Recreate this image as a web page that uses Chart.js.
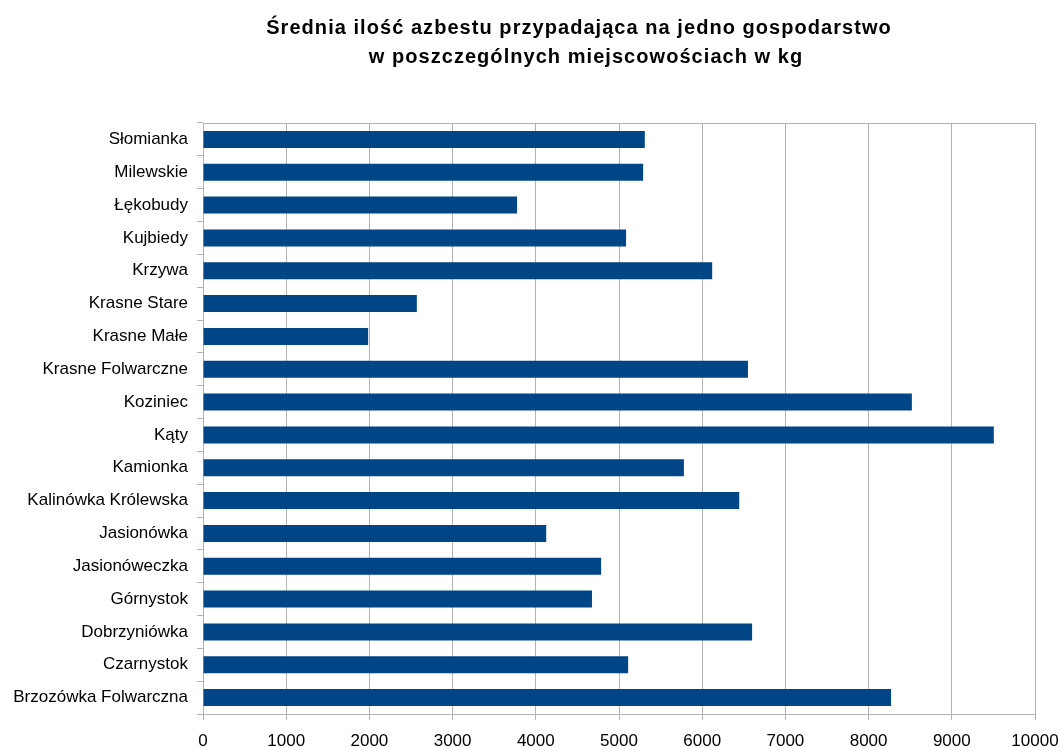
<!DOCTYPE html>
<html>
<head>
<meta charset="utf-8">
<script src="https://cdn.jsdelivr.net/npm/chart.js@4"></script>
<style>
  html, body { margin: 0; padding: 0; background: #ffffff; }
  #wrap { width: 1062px; height: 747px; }
</style>
</head>
<body>
<div id="wrap"><canvas id="c" width="1062" height="747"></canvas></div>
<script>
const titleLines = [
  "Średnia ilość azbestu przypadająca na jedno gospodarstwo",
  "w poszczególnych miejscowościach w kg"
];
const categories = [
  "Słomianka", "Milewskie", "Łękobudy", "Kujbiedy", "Krzywa",
  "Krasne Stare", "Krasne Małe", "Krasne Folwarczne", "Koziniec", "Kąty",
  "Kamionka", "Kalinówka Królewska", "Jasionówka", "Jasionóweczka",
  "Górnystok", "Dobrzyniówka", "Czarnystok", "Brzozówka Folwarczna"
];
const values = [
  5310, 5290, 3775, 5085, 6120,
  2570, 1985, 6550, 8520, 9505,
  5780, 6445, 4125, 4785,
  4675, 6600, 5110, 8270
];
const xMin = 0, xMax = 10000, xStep = 1000;

const GRID = '#b3b3b3';

const titlePlugin = {
  id: 'drawTitle',
  afterDraw(chart) {
    const ctx = chart.ctx;
    ctx.save();
    ctx.fillStyle = '#000000';
    ctx.font = 'bold 20px "Liberation Sans", Arial, sans-serif';
    if ('letterSpacing' in ctx) ctx.letterSpacing = '1.05px';
    ctx.textAlign = 'center';
    ctx.textBaseline = 'alphabetic';
    ctx.fillText(titleLines[0], 579, 34);
    ctx.fillText(titleLines[1], 586, 63);
    ctx.restore();
  }
};

const framePlugin = {
  id: 'frame',
  afterDatasetsDraw(chart) {
    const a = chart.chartArea;
    const ctx = chart.ctx;
    ctx.save();
    ctx.strokeStyle = GRID;
    ctx.lineWidth = 1;
    ctx.beginPath();
    ctx.moveTo(a.left, a.top + 0.5);
    ctx.lineTo(a.right, a.top + 0.5);
    ctx.stroke();
    ctx.restore();
  }
};

new Chart(document.getElementById('c'), {
  type: 'bar',
  data: {
    labels: categories,
    datasets: [{
      data: values,
      backgroundColor: '#004586',
      borderWidth: 0,
      barPercentage: 0.52,
      categoryPercentage: 1.0
    }]
  },
  options: {
    indexAxis: 'y',
    responsive: false,
    animation: false,
    devicePixelRatio: 1,
    layout: { padding: { top: 123, right: 27, bottom: 0, left: 0 } },
    plugins: {
      legend: { display: false },
      title: { display: false },
      tooltip: { enabled: false }
    },
    scales: {
      x: {
        type: 'linear',
        min: xMin,
        max: xMax,
        afterFit(scale) {
          scale.height = 33;
          scale.paddingRight = 24;
          scale.paddingLeft = 0;
        },
        ticks: {
          stepSize: xStep,
          color: '#000000',
          padding: 11,
          maxRotation: 0,
          callback: (v) => String(v),
          font: { family: '"Liberation Sans", Arial, sans-serif', size: 17 }
        },
        grid: { color: GRID, tickLength: 6, lineWidth: 1 },
        border: { color: GRID }
      },
      y: {
        type: 'category',
        afterFit(scale) { scale.width = 203; },
        ticks: {
          color: '#000000',
          padding: 9,
          font: { family: '"Liberation Sans", Arial, sans-serif', size: 17 }
        },
        grid: { offset: true, drawOnChartArea: false, color: GRID, tickLength: 6 },
        border: { color: GRID }
      }
    }
  },
  plugins: [titlePlugin, framePlugin]
});
</script>
</body>
</html>
